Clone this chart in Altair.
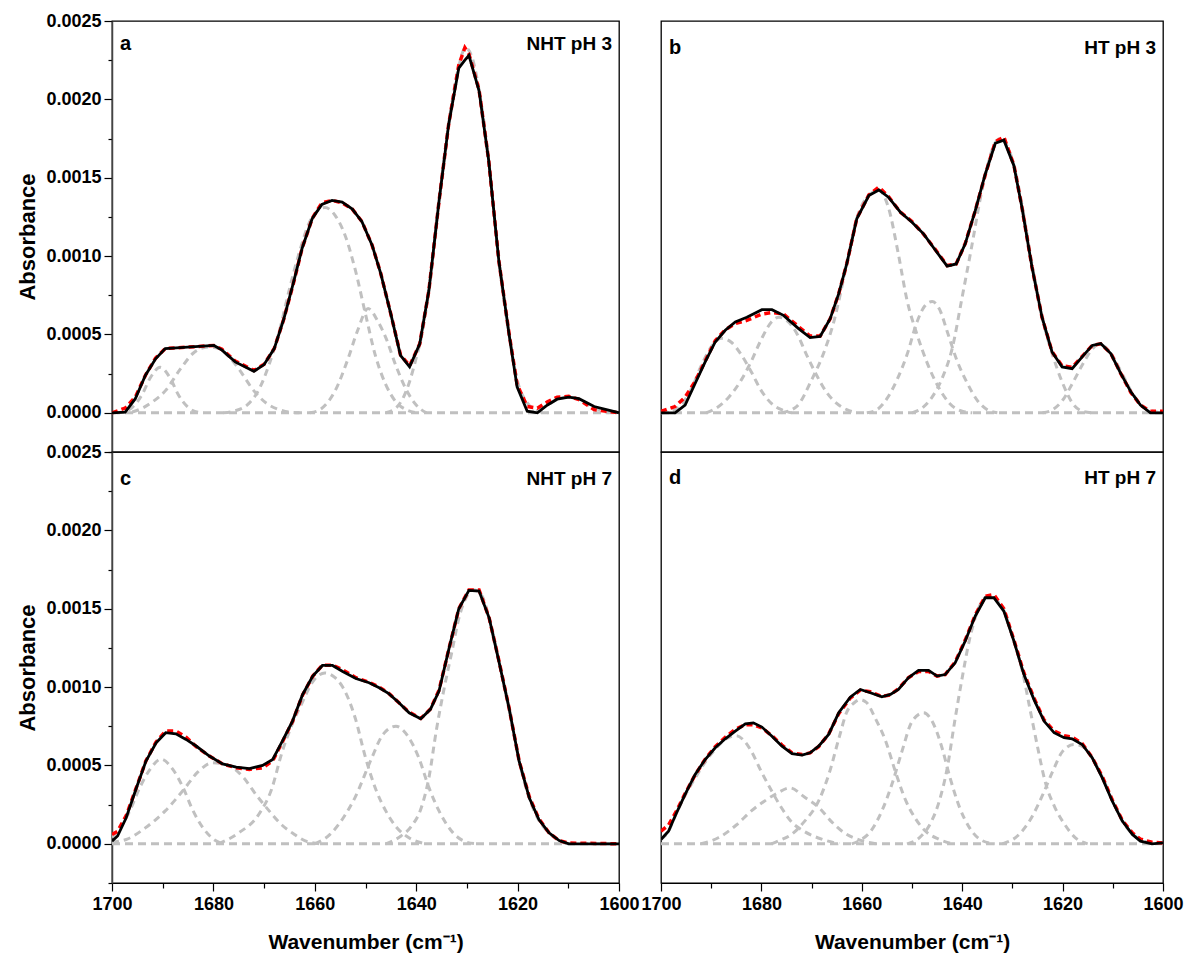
import altair as alt
import pandas as pd

# ---------------- Panel a : NHT pH 3 ----------------
A_WN = [1700, 1697.4, 1695.4, 1693.4, 1691.4, 1689.5, 1679.9, 1678.3, 1675.7, 1672.0, 1670.0, 1668.0,
        1666.1, 1664.1, 1662.5, 1660.5, 1658.6, 1656.6, 1654.6, 1652.6, 1650.7, 1648.7, 1647.0, 1645.0,
        1643.1, 1641.3, 1639.3, 1637.5, 1635.5, 1633.6, 1631.6, 1630.4, 1629.6, 1627.6, 1625.7, 1623.7,
        1621.7, 1620.1, 1618.1, 1616.1, 1614.1, 1612.2, 1609.9, 1607.9, 1604.9, 1600]
A_MEAS = [0, 0.000004, 0.00009, 0.00024, 0.000345, 0.00041, 0.00043, 0.0004, 0.000325, 0.000265, 0.000308, 0.00041,
          0.0006, 0.000845, 0.00105, 0.00124, 0.00133, 0.001355, 0.001344, 0.0013, 0.00122, 0.00107, 0.00089, 0.00063,
          0.000367, 0.000293, 0.00044, 0.00078, 0.00135, 0.00184, 0.0022, 0.00225, 0.00228, 0.002055, 0.00161, 0.00097,
          0.000505, 0.000166, 0.00001, 0, 0.00005, 0.000087, 0.0001, 0.00009, 0.00004, 0]
A_FIT = [0, 0.00003, 0.0001, 0.00024, 0.00035, 0.00041, 0.00043, 0.000405, 0.00033, 0.00027, 0.00031, 0.00041,
         0.0006, 0.00084, 0.00105, 0.00124, 0.00134, 0.001355, 0.00134, 0.0013, 0.00122, 0.00107, 0.00089, 0.00063,
         0.00037, 0.0003, 0.00044, 0.00078, 0.00135, 0.00184, 0.00222, 0.00233, 0.00229, 0.00206, 0.00161, 0.00097,
         0.00051, 0.00018, 0.00004, 0.00003, 0.00007, 0.0001, 0.000105, 0.000085, 0.00002, 0]
A_C1 = [(1699, 0), (1698, 0.000003), (1696, 0.000035), (1694, 0.00012), (1692.5, 0.00022), (1690.5, 0.00029),
        (1688.5, 0.00022), (1687, 0.00012), (1685, 0.000035), (1683, 0.000003), (1682, 0)]
A_C2 = [(1696, 0.000005), (1694, 0.00003), (1692, 0.00007), (1689.5, 0.00014), (1686.5, 0.00028), (1684, 0.00038),
        (1682, 0.000415), (1680.6, 0.00042), (1679, 0.000412), (1677, 0.00036), (1675, 0.00028), (1672, 0.00014),
        (1669.5, 0.00006), (1667, 0.00002), (1665, 0.000004), (1663, 0)]
A_C3 = [(1678, 0), (1676, 0.00001), (1673, 0.00006), (1671, 0.00015), (1669, 0.00031), (1667, 0.00052), (1665, 0.00079),
        (1663, 0.00103), (1661, 0.00122), (1659, 0.0013), (1658, 0.00131), (1656, 0.00126), (1654, 0.00113),
        (1652, 0.00091), (1650, 0.00063), (1648, 0.00036), (1646, 0.00018), (1644, 0.00007), (1642, 0.00002), (1640, 0)]
A_C4 = [(1661, 0), (1659, 0.00002), (1656, 0.00014), (1653.5, 0.00034), (1651.5, 0.00053), (1649.5, 0.000665),
        (1647.5, 0.00058), (1646, 0.00048), (1644, 0.0003), (1642, 0.00015), (1640, 0.00005), (1638, 0)]
A_C5 = [(1646, 0), (1644, 0.00003), (1642.5, 0.0001), (1641.4, 0.00019), (1640, 0.00035), (1639, 0.00048),
        (1637.5, 0.00078), (1635.5, 0.00135), (1633.6, 0.00184), (1631.6, 0.00221), (1630.3, 0.00233), (1629, 0.00227),
        (1627.6, 0.00206), (1625.7, 0.00161), (1623.7, 0.00097), (1621.7, 0.0005), (1620, 0.0002), (1618, 0.00006),
        (1616, 0.00001), (1614, 0)]
A_C6 = [(1618, 0), (1616, 0.00002), (1614, 0.00005), (1612, 0.00009), (1610, 0.0001), (1608, 0.00009),
        (1606, 0.00005), (1604, 0.00002), (1602, 0)]

# ---------------- Panel b : HT pH 3 ----------------
B_WN = [1700, 1697.2, 1695.2, 1693.2, 1691.2, 1689.2, 1687.2, 1685.2, 1682.9, 1679.9, 1677.9, 1675.6, 1672.6,
        1670.3, 1668.3, 1666.3, 1664.6, 1663.0, 1661.0, 1658.6, 1656.6, 1654.7, 1652.3, 1650.0, 1647.7, 1645.3,
        1643.0, 1641.2, 1639.4, 1637.4, 1635.4, 1633.4, 1631.7, 1629.7, 1628.1, 1626.1, 1624.1, 1622.1, 1620.1,
        1618.1, 1616.1, 1614.1, 1612.4, 1610.4, 1608.4, 1606.4, 1604.5, 1602.5, 1600]
B_MEAS = [0, 0, 0.000049, 0.000187, 0.000325, 0.000452, 0.000527, 0.00058, 0.00061, 0.000658, 0.000658, 0.000622,
          0.000537, 0.00048, 0.000488, 0.0006, 0.00076, 0.00095, 0.001238, 0.001386, 0.001422, 0.001376, 0.00128,
          0.001216, 0.001142, 0.001036, 0.000936, 0.00095, 0.001078, 0.00129, 0.001524, 0.00172, 0.00174, 0.001577,
          0.00131, 0.00093, 0.00061, 0.000388, 0.000293, 0.000282, 0.000357, 0.00043, 0.000442, 0.000378, 0.00025,
          0.000134, 0.000049, 0, 0]
B_FIT = [0.00001, 0.00004, 0.0001, 0.0002, 0.00033, 0.00046, 0.00053, 0.00057, 0.00059, 0.00063, 0.00064, 0.00063,
         0.00055, 0.00049, 0.00049, 0.0006, 0.00076, 0.00095, 0.00124, 0.00139, 0.00144, 0.00138, 0.00128, 0.00122,
         0.00114, 0.00104, 0.00094, 0.00095, 0.00108, 0.00129, 0.00152, 0.00173, 0.00176, 0.00158, 0.00131, 0.00093,
         0.00061, 0.00039, 0.0003, 0.00029, 0.00036, 0.00043, 0.00044, 0.00038, 0.00025, 0.00013, 0.00005, 0.00001,
         0.00001]
B_C1 = [(1700, 0), (1698, 0.00001), (1696, 0.00005), (1694, 0.00015), (1692, 0.0003), (1690, 0.00042), (1688, 0.000475),
        (1686, 0.00045), (1684, 0.00037), (1682, 0.00026), (1680, 0.00014), (1678, 0.00006), (1676, 0.00002), (1674, 0)]
B_C2 = [(1691, 0), (1689, 0.00003), (1686.5, 0.0001), (1684, 0.00021), (1682, 0.00033), (1680, 0.00047), (1678, 0.00058),
        (1676.5, 0.00061), (1675, 0.00059), (1673, 0.00051), (1671, 0.00037), (1669, 0.00024), (1667, 0.00013),
        (1665, 0.00006), (1663, 0.00002), (1661, 0)]
B_C3 = [(1676, 0), (1673, 0.00004), (1670, 0.00021), (1667.5, 0.00039), (1665.5, 0.00059), (1663, 0.00095),
        (1661, 0.00124), (1658.5, 0.00139), (1656.6, 0.00142), (1654.7, 0.00131), (1652.7, 0.00101), (1651, 0.00072),
        (1649, 0.0005), (1647, 0.00032), (1645, 0.00018), (1642.5, 0.00006), (1640, 0.00001), (1638, 0)]
B_C4 = [(1659, 0), (1657, 0.00002), (1655, 0.00009), (1653, 0.00021), (1651, 0.00037), (1649, 0.00058), (1647.5, 0.00068),
        (1646, 0.00071), (1644.5, 0.00066), (1643, 0.00052), (1641, 0.00033), (1639, 0.00019), (1637, 0.00008),
        (1635, 0.00002), (1633, 0)]
B_C5 = [(1650, 0), (1648, 0.00003), (1646, 0.0001), (1644, 0.00022), (1642, 0.00041), (1640, 0.00074), (1638, 0.00108),
        (1636.5, 0.00135), (1635, 0.00157), (1633.5, 0.00172), (1632.4, 0.00175), (1631, 0.0017), (1629.7, 0.00158),
        (1628, 0.00131), (1626, 0.00093), (1624, 0.0006), (1622, 0.00037), (1620, 0.00019), (1618, 0.00006),
        (1616, 0.00001), (1614, 0)]
B_C6 = [(1624, 0), (1622, 0.00002), (1620, 0.00008), (1618, 0.00019), (1616, 0.00031), (1614, 0.00041), (1612.8, 0.00044),
        (1611.5, 0.00042), (1610, 0.00036), (1608, 0.00024), (1606, 0.00012), (1604, 0.00004), (1602, 0.00001), (1600, 0)]

# ---------------- Panel c : NHT pH 7 ----------------
C_WN = [1700, 1698.9, 1697.2, 1695.3, 1693.3, 1691.3, 1689.4, 1687.4, 1685.4, 1683.4, 1680.8, 1678.2, 1675.5,
        1672.9, 1670.3, 1668.3, 1666.4, 1664.4, 1662.4, 1660.4, 1658.5, 1656.5, 1654.5, 1651.9, 1649.3, 1647.3,
        1645.4, 1643.4, 1641.4, 1639.1, 1637.2, 1635.5, 1633.5, 1631.6, 1629.6, 1627.6, 1625.6, 1623.7, 1621.7,
        1619.7, 1617.7, 1615.8, 1613.8, 1611.8, 1609.9, 1605.9, 1600]
C_MEAS = [0.000017, 0.00005, 0.000166, 0.000347, 0.000528, 0.000645, 0.000709, 0.000702, 0.000666, 0.000624, 0.00056,
          0.00051, 0.00049, 0.00048, 0.0005, 0.000538, 0.000655, 0.000783, 0.000953, 0.00107, 0.001138, 0.001138,
          0.0011, 0.001055, 0.001028, 0.000996, 0.000958, 0.0009, 0.000836, 0.000798, 0.000858, 0.000975, 0.00125,
          0.0015, 0.001617, 0.001613, 0.00144, 0.001166, 0.000868, 0.000528, 0.000294, 0.000155, 0.00007, 0.000021,
          0, 0, 0]
C_FIT = [0.00006, 0.00008, 0.00018, 0.00035, 0.00053, 0.00065, 0.00072, 0.00072, 0.00068, 0.00062, 0.00056, 0.00051,
         0.000485, 0.000475, 0.000485, 0.00053, 0.00065, 0.00078, 0.00095, 0.00107, 0.00114, 0.00114, 0.00111, 0.00106,
         0.00103, 0.001, 0.00096, 0.0009, 0.00084, 0.0008, 0.00086, 0.00098, 0.00125, 0.0015, 0.00162, 0.00162,
         0.00144, 0.00117, 0.00087, 0.00053, 0.0003, 0.00016, 0.00007, 0.00002, 0.000005, 0.000003, 0]
C_C1 = [(1700, 0.00004), (1698.5, 0.0001), (1696.5, 0.00021), (1694.5, 0.00036), (1692.5, 0.000475), (1690.3, 0.00054),
        (1688, 0.000475), (1686, 0.00036), (1684, 0.00021), (1682, 0.0001), (1680, 0.00003), (1678, 0)]
C_C2 = [(1700, 0.00001), (1697, 0.00003), (1693.5, 0.0001), (1689.5, 0.00021), (1686, 0.00034), (1683, 0.00046),
        (1680.2, 0.000517), (1677, 0.0005), (1674, 0.00042), (1671.5, 0.00031), (1669, 0.00021), (1666.5, 0.00012),
        (1664, 0.00006), (1662, 0.00002), (1659, 0)]
C_C3 = [(1679, 0), (1675, 0.00007), (1671, 0.00019), (1668.5, 0.00035), (1666.5, 0.00058), (1664.5, 0.00076),
        (1662.5, 0.0009), (1660.5, 0.00103), (1658, 0.00109), (1656, 0.00106), (1654.5, 0.001), (1652, 0.0008),
        (1650, 0.00055), (1648, 0.00035), (1646, 0.00021), (1644, 0.00011), (1641.5, 0.00004), (1638, 0)]
C_C4 = [(1660, 0), (1657, 0.00006), (1654.5, 0.00016), (1652, 0.0003), (1649, 0.00053), (1646.5, 0.0007), (1644, 0.00075),
        (1641.5, 0.00068), (1639.5, 0.00055), (1637.5, 0.00036), (1635.5, 0.00021), (1633, 0.00008), (1630, 0.00001),
        (1628, 0)]
C_C5 = [(1646, 0), (1643, 0.00005), (1641, 0.00011), (1639, 0.00023), (1637.5, 0.00042), (1636, 0.00073),
        (1634.5, 0.00099), (1633, 0.00122), (1631.5, 0.00145), (1630, 0.00158), (1628.6, 0.00162), (1627, 0.00158),
        (1625.6, 0.00144), (1623.7, 0.00117), (1621.7, 0.00087), (1619.7, 0.00053), (1617.7, 0.00029),
        (1615.8, 0.00015), (1613.8, 0.00007), (1611.8, 0.00002), (1610, 0)]

# ---------------- Panel d : HT pH 7 ----------------
D_WN = [1700, 1698.5, 1696.9, 1695.2, 1693.2, 1691.2, 1689.2, 1687.2, 1685.2, 1683.2, 1681.6, 1679.9, 1677.9,
        1675.9, 1673.9, 1671.9, 1670.3, 1668.6, 1666.6, 1664.6, 1662.3, 1660.3, 1658.3, 1656.0, 1654.3, 1652.7,
        1650.7, 1648.7, 1646.7, 1645.0, 1643.4, 1641.4, 1639.4, 1637.4, 1635.4, 1633.7, 1631.7, 1629.7, 1627.7,
        1625.7, 1623.7, 1621.7, 1619.7, 1618.1, 1616.1, 1614.1, 1612.1, 1610.1, 1608.1, 1606.1, 1604.5, 1602.2, 1600]
D_MEAS = [0.000028, 0.00008, 0.000198, 0.000315, 0.000443, 0.000538, 0.000613, 0.00067, 0.000719, 0.000766,
          0.000772, 0.000745, 0.000687, 0.000623, 0.000575, 0.000566, 0.000581, 0.000623, 0.000698, 0.000836,
          0.000936, 0.000985, 0.000964, 0.000938, 0.000953, 0.000985, 0.00106, 0.001107, 0.001107, 0.00107,
          0.00108, 0.001155, 0.001294, 0.001453, 0.00157, 0.00157, 0.001485, 0.001294, 0.00108, 0.00092,
          0.000783, 0.000709, 0.000677, 0.00067, 0.000634, 0.000549, 0.000421, 0.000272, 0.000145, 0.00006,
          0.000017, 0, 0.000006]
D_FIT = [0.00008, 0.00012, 0.00021, 0.00032, 0.00044, 0.00054, 0.00062, 0.00068, 0.00073, 0.00076,
         0.00076, 0.00074, 0.00069, 0.00063, 0.00058, 0.00057, 0.00058, 0.00062, 0.0007, 0.00083,
         0.00093, 0.00098, 0.00097, 0.00094, 0.00095, 0.00099, 0.00106, 0.0011, 0.0011, 0.00107,
         0.00108, 0.00116, 0.0013, 0.00146, 0.00158, 0.00159, 0.0015, 0.0013, 0.00109, 0.00093,
         0.00079, 0.00072, 0.00069, 0.00068, 0.00064, 0.00055, 0.00043, 0.00028, 0.00015, 0.00007,
         0.00003, 0.00001, 0.000005]
D_C1 = [(1700, 0.00003), (1698.5, 0.00008), (1697, 0.00019), (1695, 0.00032), (1693, 0.00043), (1691, 0.00053),
        (1689, 0.00061), (1687, 0.00067), (1685, 0.00069), (1683.5, 0.00066), (1682, 0.00059), (1680, 0.00046),
        (1678, 0.00034), (1676, 0.00023), (1674, 0.00014), (1671.5, 0.00008), (1668, 0.00003), (1664.5, 0)]
D_C2 = [(1692, 0), (1688.5, 0.00004), (1685, 0.00012), (1682, 0.00021), (1679.5, 0.00027), (1677, 0.00032),
        (1674.3, 0.000357), (1671.5, 0.0003), (1668.5, 0.00023), (1666, 0.00014), (1663.5, 0.00007), (1660, 0.00002),
        (1657, 0)]
D_C3 = [(1678, 0), (1676.5, 0.00002), (1674, 0.00006), (1671.5, 0.00014), (1668.5, 0.00028), (1666.5, 0.00045),
        (1664.5, 0.00068), (1663, 0.00084), (1661.5, 0.0009), (1660.3, 0.00092), (1659, 0.0009), (1657.3, 0.0008),
        (1655.3, 0.00066), (1653.3, 0.00046), (1651.3, 0.00028), (1649.3, 0.00016), (1647.3, 0.00008),
        (1644.7, 0.00003), (1642, 0)]
D_C4 = [(1662, 0), (1660.5, 0.00002), (1658, 0.00009), (1656, 0.00021), (1654, 0.00038), (1652, 0.00059), (1650, 0.00078),
        (1647.7, 0.000836), (1645.5, 0.00075), (1644, 0.00061), (1642.5, 0.00043), (1640.5, 0.00023), (1638.5, 0.0001),
        (1636, 0.00002), (1633.5, 0)]
D_C5 = [(1651, 0), (1648.5, 0.00004), (1646.5, 0.00012), (1644.5, 0.00028), (1643, 0.00048), (1641.5, 0.00078),
        (1640, 0.00106), (1638.5, 0.00131), (1637, 0.00148), (1635.5, 0.00157), (1634.4, 0.00158), (1633, 0.00155),
        (1631.5, 0.00147), (1629.7, 0.00129), (1628, 0.0011), (1626.5, 0.00086), (1625, 0.00062), (1623.5, 0.0004),
        (1621.5, 0.00023), (1619.5, 0.00012), (1617.5, 0.00004), (1615, 0)]
D_C6 = [(1632, 0), (1629, 0.00005), (1626.5, 0.00015), (1624, 0.00031), (1622, 0.00046), (1620, 0.00059),
        (1617.7, 0.000634), (1616, 0.00062), (1614, 0.00054), (1612, 0.00042), (1610, 0.00027), (1608, 0.00014),
        (1606, 0.00006), (1604, 0.00002), (1602, 0)]

# ---------------- Axis tick values & labels ----------------
X_TICKS = [1600, 1610, 1620, 1630, 1640, 1650, 1660, 1670, 1680, 1690, 1700]
Y_TICKS = [-0.00025, 0, 0.00025, 0.0005, 0.00075, 0.001, 0.00125, 0.0015, 0.00175, 0.002, 0.00225, 0.0025]
X_DOMAIN = [1600, 1700]
Y_DOMAIN = [-0.00025, 0.0025]
PANEL_LETTERS = ["a", "b", "c", "d"]
PANEL_NAMES = ["NHT pH 3", "HT pH 3", "NHT pH 7", "HT pH 7"]
X_TITLE = "Wavenumber (cm\u207b\u00b9)"
Y_TITLE = "Absorbance"

FONT = "Liberation Sans, Arial, sans-serif"

x_axis_full = alt.Axis(
    values=X_TICKS, format="d", title=X_TITLE,
    labelExpr="datum.value % 20 == 0 ? datum.label : ''",
    tickSize={"condition": {"test": "datum.value % 20 == 0", "value": 8}, "value": 5},
    labelFont=FONT, labelFontSize=18, labelFontWeight="bold", labelPadding=4,
    labelFlush=False, labelOverlap=False,
    titleFont=FONT, titleFontSize=21, titleFontWeight="bold", titlePadding=18,
    domainColor="black", tickColor="black", tickWidth=1.2, domainWidth=1.2, grid=False,
)
y_axis_full = alt.Axis(
    values=Y_TICKS, format=".4f", title=Y_TITLE,
    labelExpr="round(datum.value * 4000) % 2 == 0 ? datum.label : ''",
    tickSize={"condition": {"test": "round(datum.value * 4000) % 2 == 0", "value": 8}, "value": 4},
    labelFont=FONT, labelFontSize=18, labelFontWeight="bold", labelPadding=3,
    labelFlush=False, labelOverlap=False,
    titleFont=FONT, titleFontSize=22, titleFontWeight="bold", titlePadding=6,
    domainColor="#444444", tickColor="black", tickWidth=1.2, domainWidth=1.5, grid=False,
)


def panel(wn, meas, fit, comps, letter, name, show_x, show_y, width, text_y):
    xs = alt.Scale(domain=X_DOMAIN, reverse=True, nice=False, zero=False)
    ys = alt.Scale(domain=Y_DOMAIN, nice=False, zero=False)
    xa = x_axis_full if show_x else None
    ya = y_axis_full if show_y else None

    df_line = pd.DataFrame({"wn": wn, "meas": meas, "fit": fit})
    comp_rows = [{"wn": w, "val": v, "comp": i}
                 for i, comp in enumerate(comps) for (w, v) in comp]
    df_comp = pd.DataFrame(comp_rows)

    X = lambda f: alt.X(f, type="quantitative", scale=xs, axis=xa)
    Y = lambda f: alt.Y(f, type="quantitative", scale=ys, axis=ya)

    baseline = alt.Chart(pd.DataFrame({"wn": [1700, 1600], "zero": [0, 0]})).mark_line(
        color="#c0c0c0", strokeDash=[8, 5], strokeWidth=3, clip=True
    ).encode(x=X("wn"), y=Y("zero"))

    comp_layer = alt.Chart(df_comp).mark_line(
        color="#c0c0c0", strokeDash=[7, 5], strokeWidth=3, interpolate="monotone", clip=True
    ).encode(x=X("wn"), y=Y("val"), detail="comp:N")

    fit_layer = alt.Chart(df_line).mark_line(
        color="#ff0000", strokeDash=[6, 4], strokeWidth=3.5, clip=True
    ).encode(x=X("wn"), y=Y("fit"))

    meas_layer = alt.Chart(df_line).mark_line(
        color="black", strokeWidth=2.8, clip=True
    ).encode(x=X("wn"), y=Y("meas"))

    txt = pd.DataFrame({"letter": [letter], "name": [name]})
    letter_layer = alt.Chart(txt).mark_text(
        align="left", baseline="middle", font=FONT, fontSize=20, fontWeight="bold", color="black"
    ).encode(text="letter:N", x=alt.value(8), y=alt.value(text_y))
    name_layer = alt.Chart(txt).mark_text(
        align="right", baseline="middle", font=FONT, fontSize=19, fontWeight="bold", color="black"
    ).encode(text="name:N", x=alt.value(width - 7), y=alt.value(text_y))

    return alt.layer(baseline, comp_layer, fit_layer, meas_layer, letter_layer, name_layer).properties(
        width=width, height=431
    )


pa = panel(A_WN, A_MEAS, A_FIT, [A_C1, A_C2, A_C3, A_C4, A_C5, A_C6],
           PANEL_LETTERS[0], PANEL_NAMES[0], False, True, 507, 23)
pb = panel(B_WN, B_MEAS, B_FIT, [B_C1, B_C2, B_C3, B_C4, B_C5, B_C6],
           PANEL_LETTERS[1], PANEL_NAMES[1], False, False, 502, 27)
pc = panel(C_WN, C_MEAS, C_FIT, [C_C1, C_C2, C_C3, C_C4, C_C5],
           PANEL_LETTERS[2], PANEL_NAMES[2], True, True, 507, 27)
pd_ = panel(D_WN, D_MEAS, D_FIT, [D_C1, D_C2, D_C3, D_C4, D_C5, D_C6],
            PANEL_LETTERS[3], PANEL_NAMES[3], True, False, 502, 26)

chart = alt.concat(
    pa, pb, pc, pd_, columns=2, spacing={"row": 0, "column": 42}, bounds="flush",
    padding={"left": 8, "top": 3, "right": 5, "bottom": 5},
).configure_view(
    stroke="black", strokeWidth=1.3
)

chart.save("out.html", embed_options={"renderer": "svg", "actions": False})
